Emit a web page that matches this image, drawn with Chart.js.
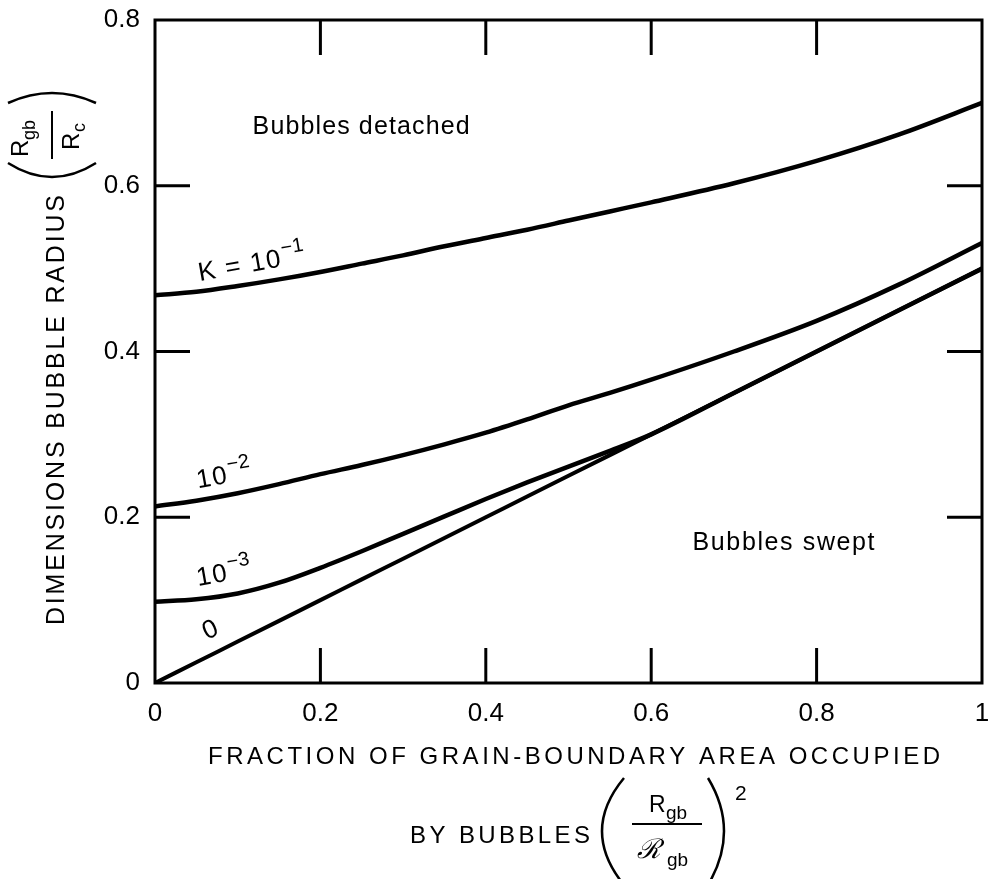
<!DOCTYPE html>
<html>
<head>
<meta charset="utf-8">
<script src="https://cdn.jsdelivr.net/npm/chart.js@4.4.1/dist/chart.umd.min.js"></script>
<style>
html,body{margin:0;padding:0;background:#fff;}
#wrap{width:990px;height:879px;position:relative;}
</style>
</head>
<body>
<div id="wrap"><canvas id="c" width="990" height="879"></canvas></div>
<script>
// ---- data ----
const xValues = [0, 0.05, 0.1, 0.15, 0.2, 0.25, 0.3, 0.35, 0.4, 0.45, 0.5, 0.55, 0.6, 0.7, 0.8, 0.9, 1.0];
const seriesK1e1 = [0.468, 0.472, 0.479, 0.487, 0.496, 0.506, 0.516, 0.527, 0.537, 0.547, 0.558, 0.569, 0.580, 0.603, 0.630, 0.662, 0.700];
const seriesK1e2 = [0.213, 0.220, 0.229, 0.240, 0.252, 0.263, 0.275, 0.288, 0.302, 0.318, 0.335, 0.350, 0.366, 0.400, 0.437, 0.481, 0.531];
const seriesK1e3 = [0.098, 0.101, 0.108, 0.121, 0.139, 0.159, 0.180, 0.201, 0.222, 0.242, 0.261, 0.280, 0.300, 0.350, 0.400, 0.450, 0.500];
const seriesK0   = [0.000, 0.025, 0.050, 0.075, 0.100, 0.125, 0.150, 0.175, 0.200, 0.225, 0.250, 0.275, 0.300, 0.350, 0.400, 0.450, 0.500];
const seriesNames = ['K = 10^-1', '10^-2', '10^-3', '0'];
const xTickValues = [0, 0.2, 0.4, 0.6, 0.8, 1];
const yTickValues = [0, 0.2, 0.4, 0.6, 0.8];
const curveLabelBase = ['K = 10', '10', '10', '0'];
const curveLabelExp  = ['\u22121', '\u22122', '\u22123', ''];
const regionLabels = ['Bubbles detached', 'Bubbles swept'];
const xTitleLine1 = 'FRACTION OF GRAIN-BOUNDARY AREA OCCUPIED';
const xTitleLine2 = 'BY BUBBLES';
const yTitle = 'DIMENSIONS BUBBLE RADIUS';

// ---- presentation ----
const FONT = '"Liberation Sans", Arial, Helvetica, sans-serif';
const curveAnchors = [
  {x: 0.054, y: 0.485, rot: -10},
  {x: 0.052, y: 0.235, rot: -10},
  {x: 0.052, y: 0.117, rot: -10},
  {x: 0.063, y: 0.052, rot: -25}
];
const regionAnchors = [
  {x: 0.118, y: 0.662, w: 217},
  {x: 0.650, y: 0.160, w: 182}
];

function toPts(ys) { return xValues.map((x, i) => ({x: x, y: ys[i]})); }

function drawSpaced(ctx, text, x, y, targetWidth) {
  const chars = Array.from(text);
  const widths = chars.map(c => ctx.measureText(c).width);
  const total = widths.reduce((a, b) => a + b, 0);
  const gap = chars.length > 1 ? (targetWidth - total) / (chars.length - 1) : 0;
  let cx = x;
  ctx.textAlign = 'left';
  chars.forEach((c, i) => { ctx.fillText(c, cx, y); cx += widths[i] + gap; });
}

const decorPlugin = {
  id: 'decor',
  afterDatasetsDraw(chart) {
    const ctx = chart.ctx;
    const a = chart.chartArea;
    const xs = chart.scales.x, ys = chart.scales.y;
    ctx.save();
    ctx.strokeStyle = '#000';
    ctx.fillStyle = '#000';
    ctx.lineCap = 'butt';
    // frame
    ctx.lineWidth = 3;
    ctx.strokeRect(a.left, a.top, a.right - a.left, a.bottom - a.top);
    // inward ticks
    const TL = 35;
    ctx.lineWidth = 3;
    xs.ticks.forEach(t => {
      if (t.value <= xs.min || t.value >= xs.max) return;
      const px = xs.getPixelForValue(t.value);
      ctx.beginPath(); ctx.moveTo(px, a.bottom); ctx.lineTo(px, a.bottom - TL); ctx.stroke();
      ctx.beginPath(); ctx.moveTo(px, a.top); ctx.lineTo(px, a.top + TL); ctx.stroke();
    });
    ys.ticks.forEach(t => {
      if (t.value <= ys.min || t.value >= ys.max) return;
      const py = ys.getPixelForValue(t.value);
      ctx.beginPath(); ctx.moveTo(a.left, py); ctx.lineTo(a.left + TL, py); ctx.stroke();
      ctx.beginPath(); ctx.moveTo(a.right, py); ctx.lineTo(a.right - TL, py); ctx.stroke();
    });

    // curve labels
    ctx.textBaseline = 'alphabetic';
    curveAnchors.forEach((p, i) => {
      ctx.save();
      ctx.translate(xs.getPixelForValue(p.x), ys.getPixelForValue(p.y));
      ctx.rotate(p.rot * Math.PI / 180);
      ctx.font = '26px ' + FONT;
      ctx.textAlign = 'left';
      const base = curveLabelBase[i];
      const w = ctx.measureText(base).width + (base.length - 1) * 1.5;
      drawSpaced(ctx, base, 0, 0, w);
      if (curveLabelExp[i]) {
        ctx.font = '20px ' + FONT;
        ctx.fillText(curveLabelExp[i], w + 2, -12);
      }
      ctx.restore();
    });

    // region labels
    ctx.font = '25px ' + FONT;
    regionAnchors.forEach((p, i) => {
      drawSpaced(ctx, regionLabels[i], xs.getPixelForValue(p.x), ys.getPixelForValue(p.y), p.w);
    });

    // x title
    ctx.font = '24px ' + FONT;
    drawSpaced(ctx, xTitleLine1, 208, 764, 732);
    drawSpaced(ctx, xTitleLine2, 410, 843, 180);
    // big parentheses
    ctx.lineWidth = 2.5;
    ctx.beginPath(); ctx.moveTo(624, 778); ctx.quadraticCurveTo(580, 831, 624, 885); ctx.stroke();
    ctx.beginPath(); ctx.moveTo(708, 778); ctx.quadraticCurveTo(740, 831, 708, 885); ctx.stroke();
    // fraction
    ctx.lineWidth = 2;
    ctx.beginPath(); ctx.moveTo(632, 824); ctx.lineTo(702, 824); ctx.stroke();
    ctx.font = '23px ' + FONT;
    ctx.fillText('R', 649, 812);
    ctx.font = '19px ' + FONT;
    ctx.fillText('gb', 666, 819);
    ctx.font = 'italic 27px "DejaVu Serif", serif';
    ctx.fillText('\u211B', 637, 858);
    ctx.font = '19px ' + FONT;
    ctx.fillText('gb', 667, 866);
    ctx.font = '21px ' + FONT;
    ctx.fillText('2', 735, 800);

    // y title (rotated)
    ctx.save();
    ctx.translate(64, 625);
    ctx.rotate(-Math.PI / 2);
    ctx.font = '25px ' + FONT;
    drawSpaced(ctx, yTitle, 0, 0, 430);
    ctx.restore();
    // y-title fraction
    ctx.save();
    ctx.translate(52, 135);
    ctx.rotate(-Math.PI / 2);
    ctx.lineWidth = 2;
    ctx.beginPath(); ctx.moveTo(-24, 0); ctx.lineTo(24, 0); ctx.stroke();
    ctx.font = '24px ' + FONT;
    ctx.textAlign = 'left';
    ctx.fillText('R', -22, -24);
    ctx.font = '18px ' + FONT;
    ctx.fillText('gb', -5, -17);
    ctx.font = '24px ' + FONT;
    ctx.fillText('R', -15, 27);
    ctx.font = '18px ' + FONT;
    ctx.fillText('c', 3, 33);
    ctx.lineWidth = 2.5;
    ctx.beginPath(); ctx.moveTo(-28, -44); ctx.quadraticCurveTo(-56, 0, -28, 44); ctx.stroke();
    ctx.beginPath(); ctx.moveTo(32, -44); ctx.quadraticCurveTo(52, 0, 32, 44); ctx.stroke();
    ctx.restore();

    ctx.restore();
  }
};

const lineStyle = {borderColor: '#000', borderWidth: 4.5, pointRadius: 0, fill: false, tension: 0.4, cubicInterpolationMode: 'monotone'};

new Chart(document.getElementById('c'), {
  type: 'line',
  data: {
    datasets: [
      Object.assign({label: seriesNames[0], data: toPts(seriesK1e1)}, lineStyle),
      Object.assign({label: seriesNames[1], data: toPts(seriesK1e2)}, lineStyle),
      Object.assign({label: seriesNames[2], data: toPts(seriesK1e3)}, lineStyle),
      Object.assign({label: seriesNames[3], data: toPts(seriesK0)}, lineStyle, {borderWidth: 4})
    ]
  },
  options: {
    responsive: false,
    animation: false,
    layout: {padding: {top: 20, right: 8, left: 0, bottom: 0}},
    plugins: {legend: {display: false}, tooltip: {enabled: false}},
    scales: {
      x: {
        type: 'linear', min: 0, max: 1,
        afterBuildTicks: s => { s.ticks = xTickValues.map(v => ({value: v})); },
        ticks: {color: '#000', font: {size: 26, family: FONT}, padding: 15, maxRotation: 0, autoSkip: false,
                callback: v => String(v)},
        grid: {display: false, drawTicks: false},
        border: {display: false},
        afterFit: s => { s.height = 196; s.paddingLeft = 0; s.paddingRight = 0; }
      },
      y: {
        type: 'linear', min: 0, max: 0.8,
        afterBuildTicks: s => { s.ticks = yTickValues.map(v => ({value: v})); },
        ticks: {color: '#000', font: {size: 26, family: FONT}, padding: 15, autoSkip: false,
                callback: v => String(v)},
        grid: {display: false, drawTicks: false},
        border: {display: false},
        afterFit: s => { s.width = 155; s.paddingTop = 0; s.paddingBottom = 0; }
      }
    }
  },
  plugins: [decorPlugin]
});
</script>
</body>
</html>
